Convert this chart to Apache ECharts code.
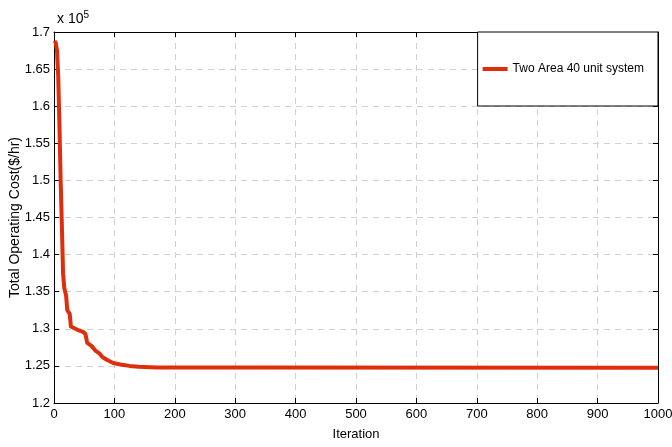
<!DOCTYPE html>
<html>
<head>
<meta charset="utf-8">
<script src="https://cdn.jsdelivr.net/npm/echarts@6/dist/echarts.min.js"></script>
<style>
  html, body { margin: 0; padding: 0; background: #fff; }
  #chart { width: 672px; height: 447px; }
</style>
</head>
<body>
<div id="chart"></div>
<script>
// convergence curve (cost in $/hr)
const iterations = [1, 3, 5, 7, 9, 11, 13, 15, 17, 20, 22, 26, 28, 30, 38, 48, 52, 55, 62, 68, 75, 80, 88, 98, 110, 125, 140, 170, 300, 302, 1000];
const costs = [168800, 168500, 167500, 164000, 157500, 150000, 144000, 137500, 135500, 134500, 132500, 132000, 130300, 130100, 129900, 129600, 129300, 128100, 127700, 127100, 126700, 126200, 125800, 125400, 125200, 125000, 124900, 124780, 124780, 124740, 124740];
const seriesName = "Two Area 40 unit system";

const font = "Liberation Sans";
const chart = echarts.init(document.getElementById("chart"));

const gridLine = { show: true, lineStyle: { color: "#d0d0d0", type: [6, 5], width: 1 } };
const axisLine = { show: true, onZero: false, lineStyle: { color: "#000", width: 1 } };
const tick = { show: true, inside: true, length: 5, lineStyle: { color: "#000" } };

const option = {
    backgroundColor: "#ffffff",
    animation: false,
    title: {
        text: "x 10{sup|5}",
        left: 52,
        top: 5,
        textStyle: {
            fontFamily: font,
            fontSize: 14,
            fontWeight: "normal",
            color: "#000",
            rich: { sup: { fontSize: 10, verticalAlign: "top", padding: [0, 0, 8, 0], color: "#000" } },
        },
    },
    legend: {
        data: [seriesName],
        right: 14,
        top: 32,
        orient: "vertical",
        backgroundColor: "#fff",
        borderColor: "#000",
        borderWidth: 1,
        borderRadius: 0,
        padding: [31, 14, 31, 5],
        itemWidth: 25,
        itemHeight: 4,
        icon: "rect",
        textStyle: { fontFamily: font, fontSize: 12, color: "#000" },
    },
    grid: { left: 54, right: 14, top: 32, bottom: 44, containLabel: false, outerBoundsMode: "none" },
    xAxis: [
        {
            type: "value",
            min: 0,
            max: 1000,
            interval: 100,
            name: "Iteration",
            nameLocation: "middle",
            nameGap: 25,
            nameMoveOverlap: false,
            nameTextStyle: { fontFamily: font, fontSize: 13, color: "#000" },
            axisLine,
            axisTick: tick,
            splitLine: gridLine,
            axisLabel: { fontFamily: font, fontSize: 13, color: "#000", margin: 5, showMaxLabel: true, formatter: (v) => String(v) },
        },
        {
            type: "value",
            position: "top",
            min: 0,
            max: 1000,
            interval: 100,
            axisLine,
            axisTick: tick,
            axisLabel: { show: false },
            splitLine: { show: false },
        },
    ],
    yAxis: [
        {
            type: "value",
            min: 120000,
            max: 170000,
            interval: 5000,
            name: "Total Operating Cost($/hr)",
            nameLocation: "middle",
            nameGap: 32,
            nameMoveOverlap: false,
            nameTextStyle: { fontFamily: font, fontSize: 14, color: "#000" },
            axisLine,
            axisTick: tick,
            splitLine: gridLine,
            axisLabel: {
                fontFamily: font,
                fontSize: 13,
                color: "#000",
                margin: 4,
                formatter: (v) => String(+(v / 1e5).toFixed(2)),
            },
        },
        {
            type: "value",
            position: "right",
            min: 120000,
            max: 170000,
            interval: 5000,
            axisLine,
            axisTick: tick,
            axisLabel: { show: false },
            splitLine: { show: false },
        },
    ],
    series: [
        {
            name: seriesName,
            type: "line",
            data: iterations.map((it, i) => [it, costs[i]]),
            showSymbol: false,
            symbol: "none",
            lineStyle: { color: "#df2e0c", width: 4, join: "round" },
            itemStyle: { color: "#df2e0c" },
            z: 5,
        },
    ],
};

chart.setOption(option);
</script>
</body>
</html>
